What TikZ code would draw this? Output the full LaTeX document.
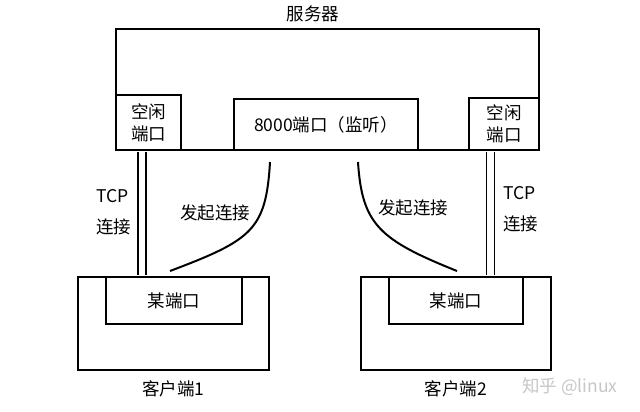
\documentclass[tikz,border=0pt]{standalone}
\usepackage{fontspec}
\setmainfont{Noto Sans CJK SC}
\usetikzlibrary{positioning}

\begin{document}
\begin{tikzpicture}[x=1pt, y=-1pt, line width=2pt,
      box/.style={rectangle, draw, inner sep=0pt, align=center,
                  font=\fontsize{17.5}{22}\selectfont},
      lbl/.style={inner sep=0pt, align=left, font=\fontsize{17.5}{31}\selectfont},
      tcp/.style={double, double distance=6.2pt, line width=1.8pt,
                  shorten <=1pt, shorten >=1pt},
      link/.style={line width=2pt}]
    \useasboundingbox (0,0) rectangle (640,412);
    % server side
    \node[box, minimum width=423pt, minimum height=121pt] (server) at (327.5,89.5) {};
    \node[lbl] (serverlbl) at (313,14) {服务器};
    \node[box, minimum width=65pt, minimum height=55pt] (idleL) at (148.5,122.5) {空闲\\端口};
    \node[box, minimum width=184pt, minimum height=51pt] (listen) at (326,124.5) {8000端口（监听）};
    \node[box, minimum width=70pt, minimum height=52pt] (idleR) at (504,124) {空闲\\端口};
    % clients
    \node[box, minimum width=191pt, minimum height=93pt] (client1) at (173.5,323.5) {};
    \node[box, minimum width=136pt, minimum height=47pt] (port1) at (174,300.5) {某端口};
    \node[lbl, below=9pt of client1] (c1lbl) {客户端1};
    \node[box, minimum width=190pt, minimum height=93pt] (client2) at (456,323.5) {};
    \node[box, minimum width=134pt, minimum height=47pt] (port2) at (456,300.5) {某端口};
    \node[lbl, below=9pt of client2] (c2lbl) {客户端2};
    % tcp links
    \coordinate (tcpL) at (142,0);
    \coordinate (tcpR) at (490.5,0);
    \draw[tcp] (idleL.south -| tcpL) -- (client1.north -| tcpL);
    \draw[tcp] (idleR.south -| tcpR) -- (client2.north -| tcpR);
    \node[lbl, anchor=west] (tcpLlbl) at (95,212) {TCP\\连接};
    \node[lbl, anchor=west] (tcpRlbl) at (502,209) {TCP\\连接};
    % connect requests
    \coordinate (reqL) at (270,162);
    \coordinate (endL) at (170,271);
    \coordinate (reqR) at (358,162);
    \coordinate (endR) at (457,271);
    \draw[link] (reqL) .. controls (266,230) and (252,240) .. (endL);
    \draw[link] (reqR) .. controls (362,225) and (380,240) .. (endR);
    \node[lbl] (reqLlbl) at (215,213) {发起连接};
    \node[lbl] (reqRlbl) at (413,208) {发起连接};
    \node[lbl, text=gray!45] (mark) at (570,387) {知乎 @linux};
  \end{tikzpicture}
\end{document}
